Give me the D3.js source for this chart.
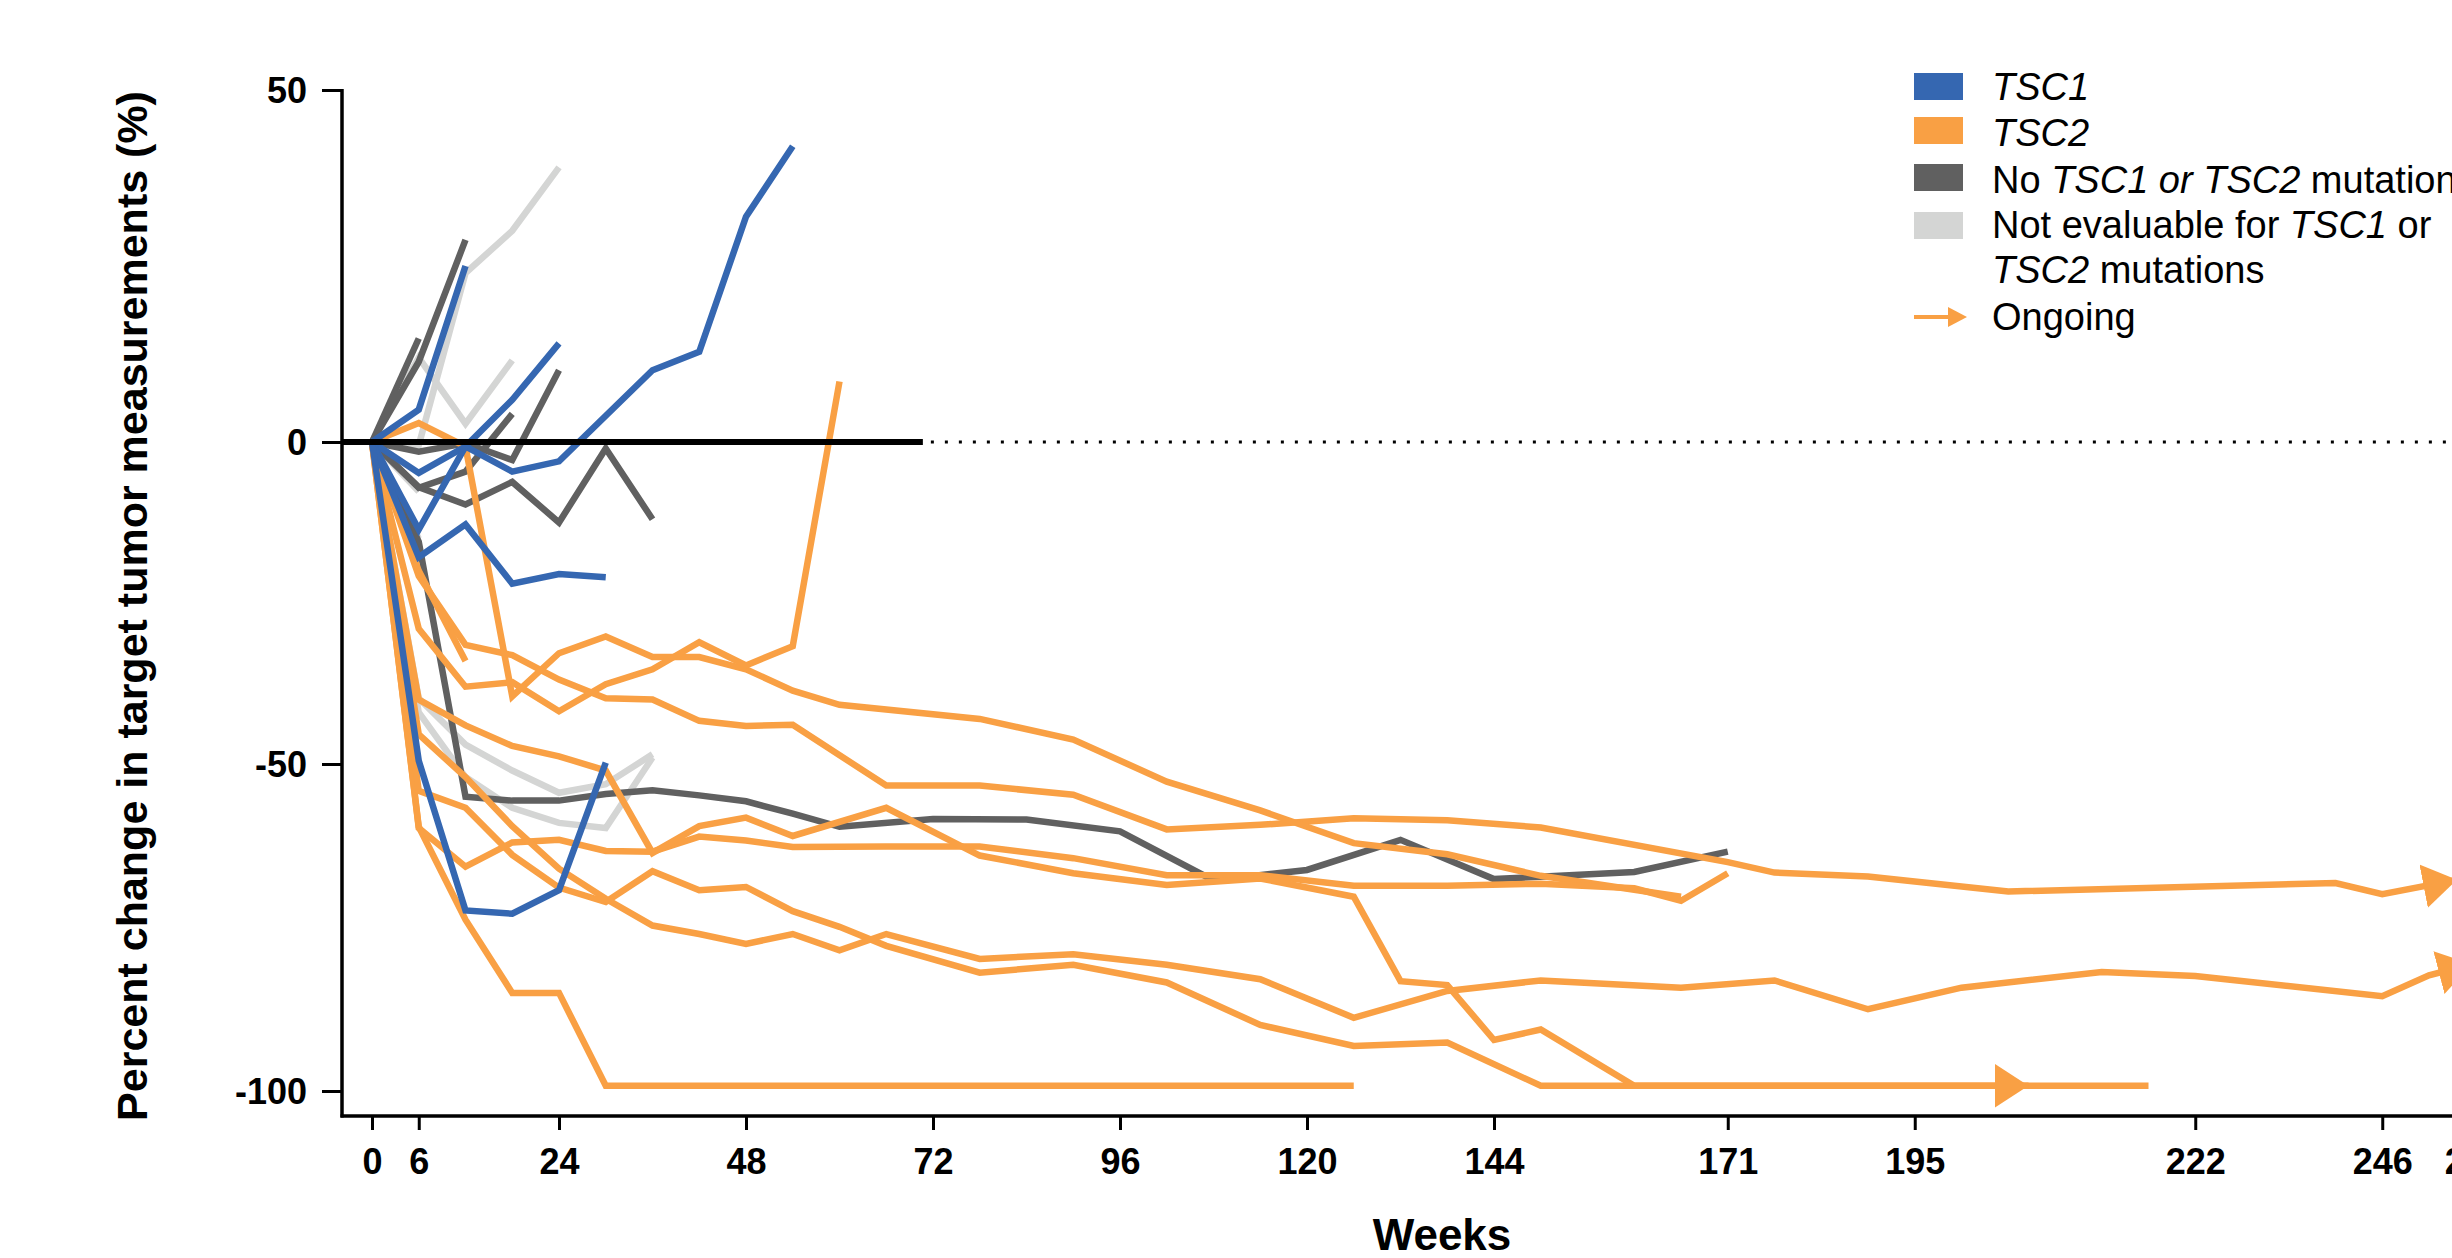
<!DOCTYPE html>
<html><head><meta charset="utf-8">
<script src="https://cdn.jsdelivr.net/npm/d3@7"></script>
<style>
html,body{margin:0;padding:0;background:#fff;overflow:hidden;}
svg{display:block;font-family:"Liberation Sans",Arial,Helvetica,sans-serif;}
</style></head><body>
<svg id="chart" width="2452" height="1258"></svg>
<script>
// ---------- axis ticks ----------
const xTickValues = [0, 6, 24, 48, 72, 96, 120, 144, 174, 198, 234, 258, 269.8];
const xTickLabels = ["0", "6", "24", "48", "72", "96", "120", "144", "171", "195", "222", "246", "270"];
const yTickValues = [50, 0, -50, -100];
const zeroSolidEnd = 70.7;

// ---------- patients: [week, % change] ----------
// TSC1
const tsc1_a = [[0,0],[6,-4.8],[12,-0.7],[18,-4.6],[24,-3],[36,10.2],[42,12.8],[48,32],[54,42]];
const tsc1_b = [[0,0],[6,-13.6],[12,-0.7],[18,6],[24,14]];
const tsc1_c = [[0,0],[6,4.6],[12,25]];
const tsc1_d = [[0,0],[6,-17.9],[12,-12.8],[18,-22],[24,-20.5],[30,-21]];
const tsc1_e = [[0,0],[6,-49.5],[12,-72.4],[18,-72.9],[24,-69.3],[30,-49.8]];
// TSC2
const tsc2_a = [[0,0],[6,-20.8],[12,-31.5],[18,-33.1],[24,-36.9],[30,-39.8],[36,-40],[42,-43.3],[48,-44.1],[54,-43.9],[66,-53.3],[72,-53.3],[78,-53.3],[90,-54.7],[102,-60],[114,-59.3],[126,-58.3],[138,-58.6],[150,-59.7],[174,-65],[180,-66.6],[192,-67.2],[210,-69.5],[252,-68.2],[258,-69.9],[267.6,-67.7]];
const tsc2_b = [[0,0],[6,2.7],[12,-0.7],[18,-39.5],[24,-32.8],[30,-30.2],[36,-33.4],[42,-33.4],[48,-35.3],[54,-38.6],[60,-40.8],[78,-43],[90,-46.2],[102,-52.7],[114,-57.1],[126,-62.1],[138,-63.8],[150,-67.1],[168,-70.3]];
const tsc2_c = [[0,0],[6,-29],[12,-38],[18,-37.3],[24,-41.8],[30,-37.6],[36,-35.3],[42,-31.1],[48,-34.7],[54,-31.7],[60,8.6]];
const tsc2_d = [[0,0],[6,-20],[12,-34]];
const tsc2_e = [[0,0],[6,-59.6],[12,-73.8],[18,-85],[24,-85],[30,-99.2],[126,-99.2]];
const tsc2_f = [[0,0],[6,-59.8],[12,-65.7],[18,-62],[24,-61.6],[30,-63.3],[36,-63.4],[42,-61.1],[48,-61.7],[54,-62.7],[66,-62.6],[78,-62.6],[90,-64.4],[102,-67],[114,-67],[126,-68.6],[138,-68.6],[150,-68.3],[162,-69],[168,-70.9],[174,-66.7]];
const tsc2_g = [[0,0],[6,-40],[12,-44],[18,-47.2],[24,-48.8],[30,-51],[36,-63.6],[42,-59.5],[48,-58.2],[54,-61],[66,-56.7],[78,-64],[90,-66.7],[102,-68.5],[114,-67.5],[126,-70.3],[132,-83.2],[138,-83.8],[144,-92.2],[150,-90.6],[162,-99.2],[228,-99.2]];
const tsc2_h = [[0,0],[6,-54.1],[12,-56.7],[18,-63.9],[24,-68.9],[30,-71.1],[36,-66.4],[42,-69.3],[48,-68.8],[54,-72.5],[60,-74.9],[66,-77.8],[78,-81.9],[90,-80.7],[102,-83.4],[114,-89.9],[126,-93.1],[138,-92.6],[150,-99.2],[212.6,-99.2]];
const tsc2_i = [[0,0],[6,-45.4],[12,-52],[18,-59.5],[24,-66],[30,-70.6],[36,-74.7],[42,-76],[48,-77.5],[54,-76],[60,-78.5],[66,-76],[78,-79.8],[90,-79.1],[102,-80.7],[114,-82.9],[126,-88.8],[138,-84.7],[150,-83.1],[168,-84.2],[180,-83.1],[192,-87.5],[204,-84.2],[222,-81.8],[234,-82.4],[258,-85.5],[264,-82.3],[269.5,-80.6]];
// No TSC1 or TSC2 mutation
const none_a = [[0,0],[6,11.4],[12,28.7]];
const none_b = [[0,0],[6,14.7]];
const none_c = [[0,0],[6,-1.5],[12,-0.2],[18,-2.8],[24,10.2]];
const none_d = [[0,0],[6,-7.1],[12,-4.6],[18,4]];
const none_e = [[0,0],[6,-7],[12,-9.7],[18,-6.2],[24,-12.5],[30,-1],[36,-12]];
const none_f = [[0,0],[6,-15.5],[12,-55],[18,-55.6],[24,-55.6],[30,-54.6],[36,-54],[42,-54.8],[48,-55.7],[54,-57.6],[60,-59.6],[72,-58.4],[84,-58.5],[96,-60.3],[108,-67.8],[120,-66.2],[132,-61.6],[144,-67.6],[162,-66.5],[174,-63.4]];
// Not evaluable
const ne_a = [[0,0],[6,-0.5],[12,24],[18,30],[24,39]];
const ne_b = [[0,0],[6,12],[12,2.6],[18,11.6]];
const ne_c = [[0,0],[6,-7.7]];
const ne_d = [[0,0],[6,-39.8],[12,-47],[18,-51],[24,-54.4],[30,-53.1],[36,-48.5]];
const ne_e = [[0,0],[6,-42],[12,-52],[18,-56.7],[24,-59],[30,-59.8],[36,-49]];
const ne_f = [[0,0],[6,-15]];

const groupTSC1 = [tsc1_a, tsc1_b, tsc1_c, tsc1_d, tsc1_e];
const groupTSC2 = [tsc2_a, tsc2_b, tsc2_c, tsc2_d, tsc2_e, tsc2_f, tsc2_g, tsc2_h, tsc2_i];
const groupNone = [none_a, none_b, none_c, none_d, none_e, none_f];
const groupNE = [ne_a, ne_b, ne_c, ne_d, ne_e, ne_f];
const ongoing = [tsc2_a, tsc2_h, tsc2_i];

// ---------- drawing ----------
const C = {blue: "#3567B1", orange: "#F9A044", dark: "#606060", light: "#D4D5D4"};
const svg = d3.select("#chart");
svg.append("rect").attr("width", 2452).attr("height", 1258).attr("fill", "#fff");

const x = d3.scaleLinear().domain([0, 144]).range([372, 1494]);
const y = d3.scaleLinear().domain([50, 0, -50, -100]).range([90, 442, 764, 1091]);
const axisX = 342, axisY = 1116;

const defs = svg.append("defs");
defs.append("marker").attr("id", "arr").attr("markerUnits", "userSpaceOnUse")
  .attr("markerWidth", 40).attr("markerHeight", 48).attr("refX", 34).attr("refY", 22)
  .attr("orient", "auto").append("path").attr("d", "M0,0L34,22L0,44Z").attr("fill", C.orange);

const line = d3.line().x(d => x(d[0])).y(d => y(d[1]));
const gLines = svg.append("g").attr("fill", "none").attr("stroke-width", 6.5)
  .attr("stroke-linejoin", "miter").attr("stroke-miterlimit", 2.5);

function drawGroup(group, color) {
  gLines.selectAll(null).data(group).enter().append("path")
    .attr("d", line).attr("stroke", color)
    .attr("marker-end", d => ongoing.includes(d) ? "url(#arr)" : null);
}
drawGroup(groupNE, C.light);
drawGroup(groupNone, C.dark);
drawGroup(groupTSC2, C.orange);
drawGroup(groupTSC1, C.blue);

// zero reference line
svg.append("line").attr("x1", axisX).attr("x2", x(zeroSolidEnd)).attr("y1", y(0)).attr("y2", y(0))
  .attr("stroke", "#000").attr("stroke-width", 6);
svg.append("line").attr("x1", x(zeroSolidEnd) + 8).attr("x2", 2452).attr("y1", y(0)).attr("y2", y(0))
  .attr("stroke", "#000").attr("stroke-width", 3).attr("stroke-dasharray", "3,11");

// axes
const tickFont = "'Liberation Sans',Arial,sans-serif";
const yAxis = svg.append("g").attr("transform", `translate(${axisX},0)`)
  .call(d3.axisLeft(y).tickValues(yTickValues).tickFormat(d => String(d)).tickSize(20).tickSizeOuter(0));
yAxis.select(".domain").remove();
yAxis.selectAll(".tick line").attr("stroke", "#000").attr("stroke-width", 3);
yAxis.selectAll(".tick text").attr("x", -35).attr("dy", "0.36em")
  .attr("font-size", 36).attr("font-weight", "bold").attr("fill", "#000").attr("font-family", tickFont);

const xAxis = svg.append("g").attr("transform", `translate(0,${axisY})`)
  .call(d3.axisBottom(x).tickValues(xTickValues).tickFormat((d, i) => xTickLabels[i]).tickSize(14).tickSizeOuter(0));
xAxis.select(".domain").remove();
xAxis.selectAll(".tick line").attr("stroke", "#000").attr("stroke-width", 3);
xAxis.selectAll(".tick text").attr("y", 58).attr("dy", 0)
  .attr("font-size", 36).attr("font-weight", "bold").attr("fill", "#000").attr("font-family", tickFont);

svg.append("line").attr("x1", axisX).attr("x2", axisX).attr("y1", y(50) - 1).attr("y2", axisY + 1.5)
  .attr("stroke", "#000").attr("stroke-width", 3.5);
svg.append("line").attr("x1", axisX - 1.5).attr("x2", 2452).attr("y1", axisY).attr("y2", axisY)
  .attr("stroke", "#000").attr("stroke-width", 3.5);

// axis titles
svg.append("text").attr("x", 1442).attr("y", 1250).attr("text-anchor", "middle")
  .attr("font-size", 44).attr("font-weight", "bold").text("Weeks");
svg.append("text").attr("transform", "translate(147,606) rotate(-90)").attr("text-anchor", "middle")
  .attr("font-size", 43).attr("font-weight", "bold").text("Percent change in target tumor measurements (%)");

// legend
const lg = svg.append("g").attr("font-size", 38);
const legColors = [C.blue, C.orange, C.dark, C.light];
const legRectY = [73, 117, 164, 212];
legColors.forEach((c, i) => {
  lg.append("rect").attr("x", 1914).attr("y", legRectY[i]).attr("width", 49).attr("height", 27).attr("fill", c);
});
function legText(yb, parts) {
  const t = lg.append("text").attr("x", 1992).attr("y", yb);
  parts.forEach(p => t.append("tspan").attr("font-style", p[1] ? "italic" : "normal").text(p[0]));
}
legText(100, [["TSC1", 1]]);
legText(146, [["TSC2", 1]]);
legText(193, [["No ", 0], ["TSC1 or TSC2", 1], [" mutations", 0]]);
legText(238, [["Not evaluable for ", 0], ["TSC1", 1], [" or", 0]]);
legText(283, [["TSC2", 1], [" mutations", 0]]);
legText(330, [["Ongoing", 0]]);
lg.append("line").attr("x1", 1914).attr("x2", 1952).attr("y1", 317).attr("y2", 317)
  .attr("stroke", C.orange).attr("stroke-width", 4);
lg.append("path").attr("d", "M1948,307L1967,317L1948,327Z").attr("fill", C.orange);
</script>
</body></html>
